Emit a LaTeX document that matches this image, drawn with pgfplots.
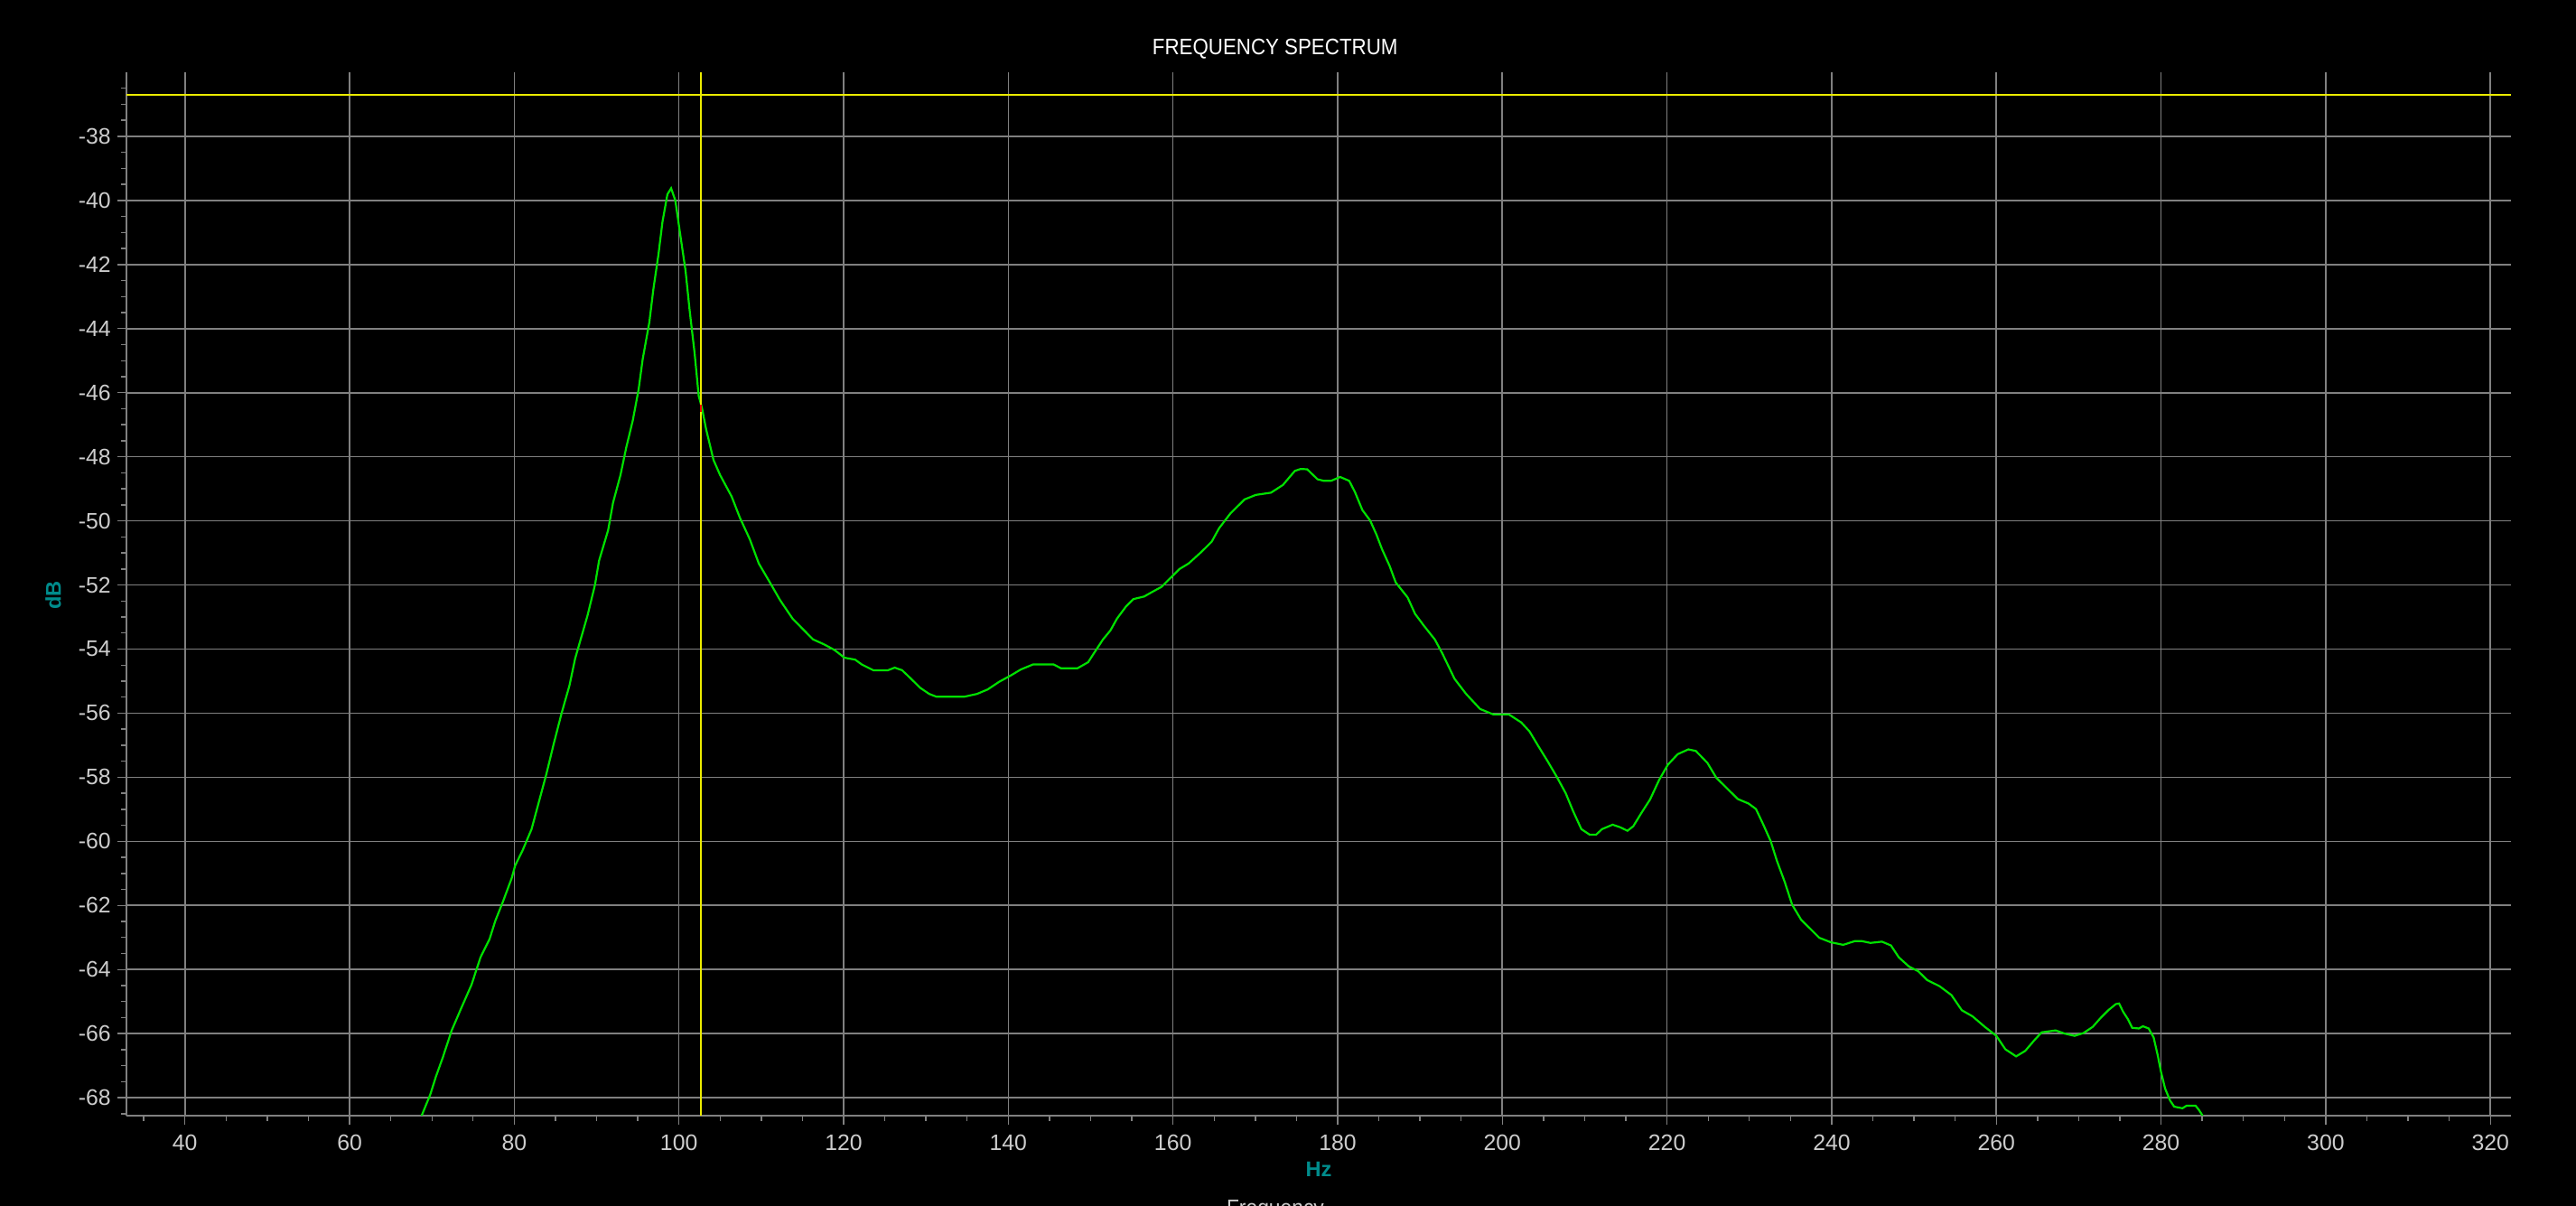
\documentclass[border=0pt]{standalone}
\usepackage{fontspec}
\setmainfont{Liberation Sans}
\usepackage{graphicx}
\usepackage{pgfplots}
\pgfplotsset{compat=1.18}
\definecolor{gridgray}{RGB}{128,128,128}
\definecolor{labgray}{RGB}{205,205,205}
\definecolor{curvegreen}{RGB}{0,225,0}
\definecolor{cursoryellow}{RGB}{235,235,0}
\definecolor{tealc}{RGB}{0,140,140}
\newcommand{\tickfont}{\fontsize{6.2}{7}\selectfont}
\pgfplotstableread{
f db
68.3 -68.85
68.8 -68.53
69.8 -67.9
70.5 -67.33
71.3 -66.76
72.4 -65.9
73.5 -65.24
74.8 -64.48
75.9 -63.62
77.0 -63.05
77.7 -62.48
78.6 -61.9
79.7 -61.14
80.1 -60.76
81.0 -60.29
82.1 -59.62
83.0 -58.76
83.9 -57.9
84.8 -56.95
85.75 -56.0
86.7 -55.14
87.4 -54.29
87.95 -53.8
88.9 -52.95
89.8 -52.0
90.3 -51.24
91.4 -50.29
92.0 -49.43
92.9 -48.57
93.6 -47.71
94.4 -46.86
95.1 -45.9
95.6 -44.95
96.4 -43.81
96.9 -42.76
97.5 -41.71
98.0 -40.67
98.6 -39.81
99.05 -39.62
99.56 -40.0
100.2 -41.14
100.8 -42.19
101.3 -43.43
101.9 -44.76
102.4 -46.1
102.8 -46.48
103.3 -47.14
104.2 -48.1
105.0 -48.57
106.4 -49.24
107.4 -49.9
108.6 -50.57
109.7 -51.33
111.0 -51.9
112.3 -52.48
113.8 -53.05
115.6 -53.52
116.3 -53.7
117.6 -53.85
118.9 -54.03
120.1 -54.27
121.4 -54.33
122.2 -54.48
123.6 -54.66
125.4 -54.66
126.2 -54.58
127.1 -54.66
128.2 -54.93
129.3 -55.21
130.4 -55.4
131.3 -55.49
134.6 -55.49
136.2 -55.4
137.5 -55.26
138.9 -55.02
140.4 -54.81
141.5 -54.64
143.0 -54.48
145.5 -54.48
146.4 -54.6
148.4 -54.6
149.7 -54.41
150.4 -54.13
151.5 -53.7
152.4 -53.42
153.2 -53.05
154.3 -52.67
155.2 -52.44
156.5 -52.36
157.6 -52.2
158.6 -52.06
159.9 -51.73
160.8 -51.5
161.9 -51.33
163.4 -50.98
164.7 -50.65
165.6 -50.23
167.0 -49.76
168.7 -49.33
170.05 -49.19
171.9 -49.12
173.35 -48.88
174.8 -48.44
175.5 -48.38
176.3 -48.39
177.55 -48.7
178.3 -48.75
179.2 -48.75
180.3 -48.63
181.4 -48.75
182.1 -49.1
183.0 -49.66
183.95 -49.99
184.7 -50.42
185.4 -50.89
186.3 -51.4
187.05 -51.92
188.5 -52.39
189.4 -52.9
190.5 -53.28
191.8 -53.7
192.7 -54.13
194.2 -54.93
195.6 -55.4
197.3 -55.87
198.9 -56.04
200.8 -56.04
202.3 -56.29
203.3 -56.57
204.4 -57.04
205.5 -57.5
206.6 -57.98
207.7 -58.5
208.6 -59.06
209.6 -59.62
210.6 -59.79
211.4 -59.79
212.1 -59.62
213.4 -59.48
214.3 -59.56
215.2 -59.67
215.9 -59.53
216.9 -59.11
217.95 -58.69
219.05 -58.08
220.1 -57.61
221.3 -57.28
222.6 -57.13
223.5 -57.18
224.9 -57.55
226.0 -58.02
227.5 -58.4
228.6 -58.68
229.9 -58.82
230.8 -58.99
231.7 -59.48
232.6 -60.0
233.35 -60.61
234.3 -61.27
235.2 -61.98
236.3 -62.45
237.4 -62.73
238.5 -63.01
239.9 -63.15
241.4 -63.23
242.85 -63.11
243.6 -63.11
244.7 -63.17
246.1 -63.13
247.2 -63.25
248.15 -63.62
249.4 -63.91
250.5 -64.05
251.6 -64.33
253.1 -64.52
254.55 -64.8
255.8 -65.27
257.1 -65.46
258.6 -65.79
260.0 -66.07
261.1 -66.49
262.4 -66.71
263.5 -66.54
264.6 -66.21
265.5 -65.96
267.2 -65.9
268.3 -66.0
269.5 -66.07
270.6 -65.98
271.7 -65.79
272.7 -65.5
273.6 -65.27
274.5 -65.08
274.9 -65.06
275.4 -65.32
275.98 -65.55
276.5 -65.82
277.3 -65.84
277.8 -65.77
278.5 -65.84
279.1 -66.12
279.6 -66.68
280.0 -67.2
280.5 -67.72
281.1 -68.09
281.6 -68.28
282.6 -68.33
283.1 -68.25
284.2 -68.25
284.6 -68.38
285.0 -68.54
285.3 -68.8
}\spectrum
\begin{document}
\begin{tikzpicture}
\useasboundingbox (-35pt,-25pt) rectangle (678pt,308.75pt);
\fill[black] (-35pt,-25pt) rectangle (678pt,308.75pt);
\begin{axis}[
  at={(0pt,0pt)}, anchor=south west,
  scale only axis, width=660pt, height=288.75pt,
  xmin=32.9, xmax=322.5, ymin=-68.56, ymax=-36,
  axis x line*=bottom, axis y line*=left,
  axis line style={draw=gridgray, line width=0.4pt, -},
  xtick={40,60,...,320}, ytick={-68,-66,...,-38},
  minor xtick={35,40,...,320}, minor ytick={-68.5,-68,...,-36.5},
  tick align=outside, major tick length=2.6pt, minor tick length=1.4pt,
  tick style={draw=gridgray, line width=0.35pt},
  grid=major, major grid style={draw=gridgray, line width=0.4pt},
  minor grid style={draw=none},
  /pgf/number format/assume math mode=true,
  ticklabel style={font=\tickfont, text=labgray, inner sep=0pt},
  xticklabel style={anchor=north, yshift=-2.5pt},
  yticklabel style={anchor=east, xshift=-1.5pt},
  xlabel={Hz}, ylabel={dB},
  every axis x label/.style={at={(axis description cs:0.5,0)}, anchor=center, yshift=-14.9pt, font=\bfseries\fontsize{5.9}{7}\selectfont, text=tealc, inner sep=0pt},
  every axis y label/.style={at={(axis description cs:0,0.4987)}, anchor=center, xshift=-20.25pt, rotate=90, font=\bfseries\fontsize{5.9}{7}\selectfont, text=tealc, inner sep=0pt},
  clip mode=individual,
]
\addplot[curvegreen, line width=0.55pt] table[x=f, y=db] {\spectrum};
\addplot[cursoryellow, line width=0.5pt] coordinates {(32.9,-36.7) (322.5,-36.7)};
\addplot[cursoryellow, line width=0.5pt] coordinates {(102.67,-68.56) (102.67,-36)};
\addplot[red, line width=0.6pt] coordinates {(102.67,-46.38) (102.67,-46.61)};
\node[font=\tickfont, text=white, anchor=base, inner sep=0pt] at (rel axis cs:0.4817,1.01645) {\scalebox{0.9}[1]{FREQUENCY SPECTRUM}};
\node[font=\tickfont, text=labgray, anchor=north, inner sep=0pt, yshift=-23.25pt] at (rel axis cs:0.4818,0) {\scalebox{0.92}[1]{Frequency}};
\end{axis}
\end{tikzpicture}
\end{document}
